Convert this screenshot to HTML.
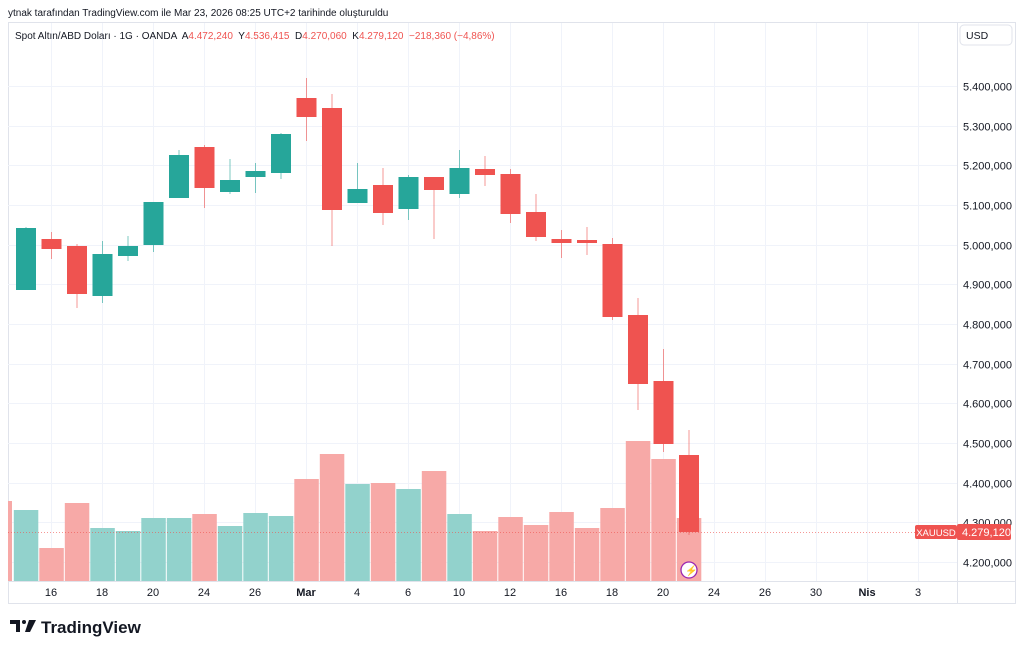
<!DOCTYPE html>
<html><head><meta charset="utf-8">
<style>
html,body{margin:0;padding:0;background:#fff;width:1024px;height:653px;overflow:hidden;font-family:"Liberation Sans",sans-serif;}
svg text{font-family:"Liberation Sans",sans-serif;white-space:pre;}
</style></head><body>
<svg id="s" width="1024" height="653" xmlns="http://www.w3.org/2000/svg">
<rect width="1024" height="653" fill="#fff"/>
<text x="8" y="16" font-size="10" fill="#131722">ytnak tarafından TradingView.com ile Mar 23, 2026 08:25 UTC+2 tarihinde oluşturuldu</text>
<rect x="8.5" y="22.5" width="1007" height="581" fill="none" stroke="#e0e3eb"/>
<line x1="957.5" y1="22" x2="957.5" y2="603" stroke="#e0e3eb"/>
<line x1="8" y1="581.5" x2="1015" y2="581.5" stroke="#e0e3eb"/>
<g id="grid"></g>
<g id="vol"></g>
<line x1="8" y1="532.5" x2="957" y2="532.5" stroke="#ef5350" stroke-width="1" stroke-dasharray="1,2" opacity="0.6"/>
<g id="cand"></g>
<g id="axis" font-size="11" fill="#131722"></g>
<rect x="960" y="25" width="52" height="20" rx="4" fill="#fff" stroke="#e0e3eb"/>
<text x="966" y="39" font-size="10.5" fill="#131722">USD</text>
<text x="15" y="39" font-size="10" fill="#131722">Spot Altın/ABD Doları · 1G · OANDA  A<tspan fill="#ef5350">4.472,240</tspan>  Y<tspan fill="#ef5350">4.536,415</tspan>  D<tspan fill="#ef5350">4.270,060</tspan>  K<tspan fill="#ef5350">4.279,120  −218,360 (−4,86%)</tspan></text>
<rect x="915" y="525" width="42" height="14" rx="2" fill="#ef5350"/>
<text x="936" y="536" font-size="9.5" fill="#fff" text-anchor="middle">XAUUSD</text>
<rect x="957" y="524" width="54" height="16" rx="2" fill="#ef5350"/>
<text x="962" y="536" font-size="11" fill="#fff">4.279,120</text>
<circle cx="689" cy="570" r="8" fill="#fff" stroke="#9c27b0" stroke-width="1.3"/>
<text x="685" y="574" font-size="10" fill="#9c27b0">⚡</text>
<g transform="translate(10,620)">
<path d="M0 0h10v12h-4v-8h-6z" fill="#131722"/>
<circle cx="14" cy="2" r="2" fill="#131722"/>
<path d="M19 0h7l-6 12h-5z" fill="#131722"/>
<text x="31" y="13" font-size="17" font-weight="bold" fill="#131722">TradingView</text>
</g>
</svg>
<script>
const NS="http://www.w3.org/2000/svg";
function el(p,t,a){const e=document.createElementNS(NS,t);for(const k in a)e.setAttribute(k,a[k]);document.getElementById(p).appendChild(e);return e;}
const y=p=>86+(5400-p)*0.3967;
for(let p=4200;p<=5400;p+=100){const yy=Math.round(y(p))+0.5;el('grid','line',{x1:8,x2:957,y1:yy,y2:yy,stroke:'#f0f3fa'});
 const t=el('axis','text',{x:963,y:yy+4});t.textContent=(p/1000).toFixed(3).replace('.',',').replace(/^(\d),/,'$1.')+',000';}
const vx=[51,102,153,204,255,306,357,408,459,510,561,612,663,714,765,816,867,918];
const vl=['16','18','20','24','26','Mar','4','6','10','12','16','18','20','24','26','30','Nis','3'];
vx.forEach((x,i)=>{el('grid','line',{x1:x+0.5,x2:x+0.5,y1:23,y2:581,stroke:'#f0f3fa'});
 const t=el('axis','text',{x:x,y:596,'text-anchor':'middle','font-weight':(vl[i]=='Mar'||vl[i]=='Nis')?'bold':'normal'});t.textContent=vl[i];});
const C=[[1,228,290,227,290],[0,239,249,232,259],[0,246,294,244,308],[1,254,296,241,303],[1,246,256,236,261],
[1,202,245,202,252],[1,155,198,150,198],[0,147,188,145,208],[1,180,192,159,194],[1,171,177,163,193],
[1,134,173,133,179],[0,98,117,78,141],[0,108,210,94,246],[1,189,203,163,203],[0,185,213,168,225],
[1,177,209,175,220],[0,177,190,177,239],[1,168,194,150,198],[0,169,175,156,186],[0,174,214,169,223],
[0,212,237,194,241],[0,239,243,230,258],[0,240,243,227,255],[0,244,317,238,320],[0,315,384,298,410],
[0,381,444,349,452],[0,455,532,430,535]];
const V=[[1,510],[0,548],[0,503],[1,528],[1,531],[1,518],[1,518],[0,514],[1,526],[1,513],[1,516],[0,479],[0,454],[1,484],[0,483],[1,489],[0,471],[1,514],[0,531],[0,517],[0,525],[0,512],[0,528],[0,508],[0,441],[0,459],[0,518]];
el('vol','rect',{x:8,y:501,width:4,height:80,fill:'#f7a9a7'});
C.forEach((c,i)=>{const x=26+25.5*i;const col=c[0]?'#26a69a':'#ef5350';
 const v=V[i];el('vol','rect',{x:x-12.2,y:v[1],width:24.5,height:581-v[1],fill:v[0]?'#92d2cc':'#f7a9a7'});
 el('cand','line',{x1:x,x2:x,y1:c[3],y2:c[4],stroke:col,'stroke-width':1,opacity:0.6});
 el('cand','rect',{x:x-10,y:c[1],width:20,height:Math.max(2,c[2]-c[1]),fill:col});});
</script>
</body></html>
